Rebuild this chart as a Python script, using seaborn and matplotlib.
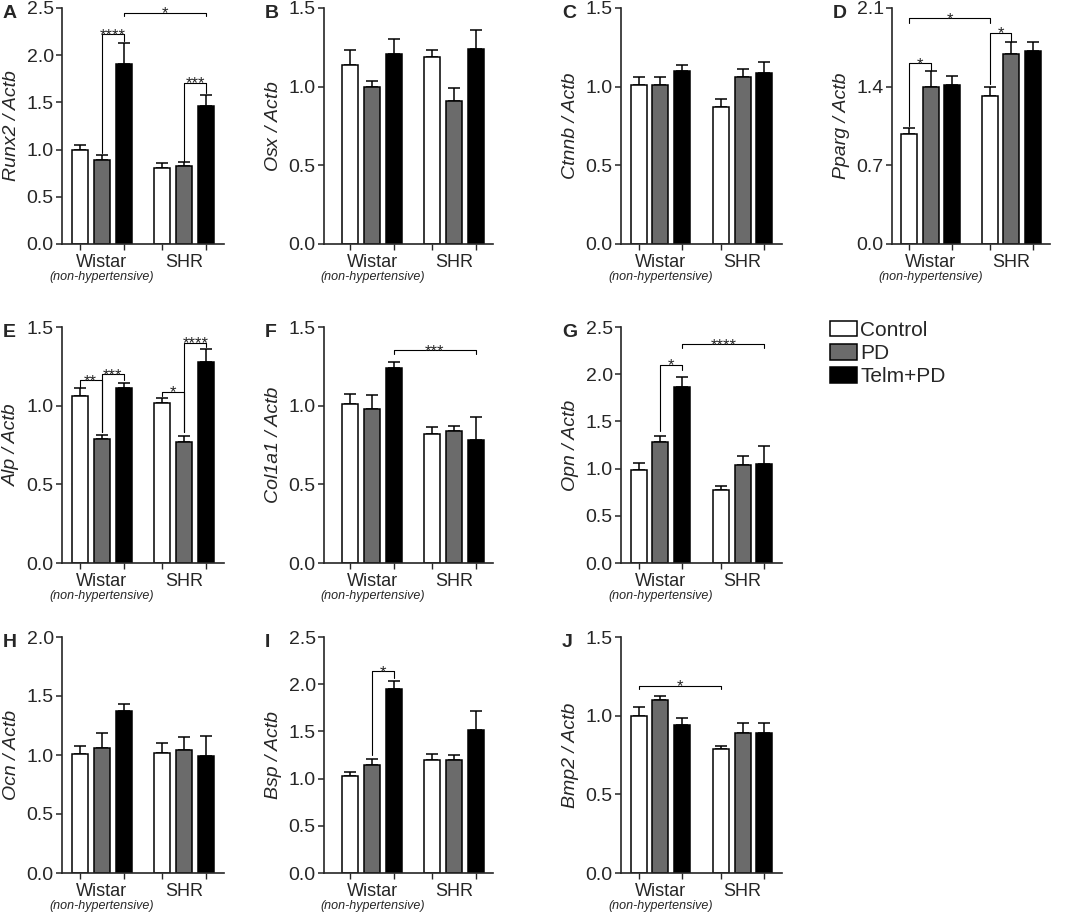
import numpy as np
import pandas as pd
import matplotlib
matplotlib.use("Agg")
import matplotlib.pyplot as plt
import seaborn as sns

# 数据：每个基因 6 个值，顺序为 Wistar(Control, PD, Telm+PD), SHR(Control, PD, Telm+PD)
strains = ["Wistar", "SHR"]
groups = ["Control", "PD", "Telm+PD"]
palette = ["white", "#6b6b6b", "black"]

runx2_mean = [1.00, 0.89, 1.91, 0.80, 0.83, 1.46]
runx2_sem = [0.05, 0.05, 0.22, 0.06, 0.04, 0.12]
osx_mean = [1.14, 1.00, 1.21, 1.19, 0.91, 1.24]
osx_sem = [0.095, 0.035, 0.09, 0.04, 0.08, 0.12]
ctnnb_mean = [1.01, 1.01, 1.10, 0.87, 1.06, 1.09]
ctnnb_sem = [0.05, 0.05, 0.04, 0.05, 0.05, 0.065]
pparg_mean = [0.98, 1.40, 1.415, 1.32, 1.69, 1.72]
pparg_sem = [0.055, 0.14, 0.08, 0.08, 0.11, 0.08]
alp_mean = [1.06, 0.79, 1.11, 1.02, 0.77, 1.28]
alp_sem = [0.055, 0.025, 0.035, 0.03, 0.04, 0.08]
col1a1_mean = [1.01, 0.98, 1.24, 0.82, 0.84, 0.78]
col1a1_sem = [0.065, 0.09, 0.035, 0.045, 0.03, 0.145]
opn_mean = [0.99, 1.28, 1.86, 0.77, 1.035, 1.05]
opn_sem = [0.065, 0.065, 0.11, 0.05, 0.10, 0.19]
ocn_mean = [1.01, 1.06, 1.37, 1.02, 1.04, 0.99]
ocn_sem = [0.07, 0.13, 0.06, 0.085, 0.11, 0.175]
bsp_mean = [1.03, 1.14, 1.95, 1.20, 1.20, 1.52]
bsp_sem = [0.04, 0.065, 0.085, 0.06, 0.055, 0.20]
bmp2_mean = [1.00, 1.10, 0.94, 0.79, 0.89, 0.89]
bmp2_sem = [0.055, 0.025, 0.045, 0.02, 0.065, 0.065]

# 显著性标记: (柱1, 柱2, 横线高度, 柱1端高度, 柱2端高度, 文本)
sig_a = [(1, 2, 2.22, 0.96, 2.15, "****"), (2, 5, 2.45, 2.41, 2.41, "*"), (4, 5, 1.71, 0.88, 1.60, "***")]
sig_d = [(0, 3, 2.01, 1.97, 1.97, "*"), (0, 1, 1.61, 1.05, 1.55, "*"), (3, 4, 1.88, 1.42, 1.81, "*")]
sig_e = [(0, 1, 1.16, 1.12, 0.83, "**"), (1, 2, 1.20, 0.83, 1.16, "***"),
         (3, 4, 1.09, 1.06, 0.83, "*"), (4, 5, 1.40, 0.83, 1.37, "****")]
sig_f = [(2, 5, 1.355, 1.33, 1.33, "***")]
sig_g = [(1, 2, 2.10, 1.40, 2.04, "*"), (2, 5, 2.32, 2.28, 2.28, "****")]
sig_i = [(1, 2, 2.14, 1.25, 2.07, "*")]
sig_j = [(0, 3, 1.19, 1.17, 1.17, "*")]

sns.set_style("ticks")
plt.rcParams["font.family"] = "Liberation Sans"
plt.rcParams["mathtext.fontset"] = "custom"
plt.rcParams["mathtext.it"] = "Liberation Sans:italic"
plt.rcParams["mathtext.rm"] = "Liberation Sans"

W, H = 1073, 915
fig = plt.figure(figsize=(W / 100, H / 100), dpi=100)

rows_px = [(8, 244), (327, 563), (637, 873)]
cols_px = [(62, 224), (324, 493), (621, 782), (892, 1050)]

panels = [
    ("A", "Runx2 / Actb", runx2_mean, runx2_sem, 2.5, 0.5, 0, 0, sig_a),
    ("B", r"Osx / $\it{Actb}$", osx_mean, osx_sem, 1.5, 0.5, 0, 1, []),
    ("C", "Ctnnb / Actb", ctnnb_mean, ctnnb_sem, 1.5, 0.5, 0, 2, []),
    ("D", "Pparg / Actb", pparg_mean, pparg_sem, 2.1, 0.7, 0, 3, sig_d),
    ("E", "Alp / Actb", alp_mean, alp_sem, 1.5, 0.5, 1, 0, sig_e),
    ("F", "Col1a1 / Actb", col1a1_mean, col1a1_sem, 1.5, 0.5, 1, 1, sig_f),
    ("G", "Opn / Actb", opn_mean, opn_sem, 2.5, 0.5, 1, 2, sig_g),
    ("H", "Ocn / Actb", ocn_mean, ocn_sem, 2.0, 0.5, 2, 0, []),
    ("I", "Bsp / Actb", bsp_mean, bsp_sem, 2.5, 0.5, 2, 1, sig_i),
    ("J", "Bmp2 / Actb", bmp2_mean, bmp2_sem, 1.5, 0.5, 2, 2, sig_j),
]

for letter, ylab, means, sems, ymax, step, r, c, sigs in panels:
    top, bot = rows_px[r]
    left, right = cols_px[c]
    ax = fig.add_axes([left / W, 1 - bot / H, (right - left) / W, (bot - top) / H])

    df = pd.DataFrame({"strain": np.repeat(strains, 3), "group": groups * 2, "value": means})
    sns.barplot(data=df, x="strain", y="value", hue="group", order=strains, hue_order=groups,
                palette=palette, edgecolor="black", linewidth=1.1, width=0.8, gap=0.27,
                errorbar=None, legend=False, ax=ax, zorder=2)

    bars = sorted(ax.patches, key=lambda p: p.get_x())
    xs = np.array([b.get_x() + b.get_width() / 2 for b in bars])
    ax.errorbar(xs, means, yerr=[np.zeros(6), sems], fmt="none", ecolor="black",
                elinewidth=1.1, capsize=4, capthick=1.1, zorder=1)

    # 显著性括号
    for i, j, y, yi, yj, txt in sigs:
        ax.plot([xs[i], xs[i], xs[j], xs[j]], [yi, y, y, yj], color="black", lw=0.8, clip_on=False)
        ax.annotate(txt, xy=((xs[i] + xs[j]) / 2, y), xytext=(0, -4.2), textcoords="offset points",
                    ha="center", va="baseline", fontsize=12, annotation_clip=False)

    ax.set_ylim(0, ymax)
    ax.set_yticks(np.arange(0, ymax + 1e-9, step))
    ax.set_yticklabels([f"{t:.1f}" for t in np.arange(0, ymax + 1e-9, step)])
    ax.set_xlim(-0.59 if c == 1 else -0.48, 1.48)
    ax.set_xticks([0, 1])
    ax.set_xticklabels(strains)
    ax.set_xticks(xs, minor=True)
    ax.tick_params(axis="x", which="major", length=0, pad=7, labelsize=13)
    ax.tick_params(axis="x", which="minor", length=4, width=1)
    ax.tick_params(axis="y", length=4.5, width=1.1, pad=1.5, labelsize=14)
    ax.set_xlabel("")
    ax.set_ylabel(ylab, fontsize=14, style="italic")
    ax.yaxis.set_label_coords(-42 / (right - left), 0.5)
    sns.despine(ax=ax)
    for s in ["left", "bottom"]:
        ax.spines[s].set_linewidth(1.2)

    ax.annotate("(non-hypertensive)", xy=(0, 0), xycoords=("data", "axes fraction"),
                xytext=(0, -24), textcoords="offset points", ha="center", va="center",
                fontsize=9, style="italic", annotation_clip=False)

    fig.text((left - 59) / W, 1 - (top - 3) / H, letter, fontsize=14, fontweight="bold",
             ha="left", va="top")

    if letter == "G":
        ax.legend(handles=bars[:3], labels=groups, loc="upper left",
                  bbox_to_anchor=(830 / W, 1 - 321 / H), bbox_transform=fig.transFigure,
                  frameon=False, borderpad=0, borderaxespad=0, fontsize=15,
                  handlelength=1.3, handleheight=0.75, handletextpad=0.15, labelspacing=0.2)

fig.savefig("out.png", dpi=100)
